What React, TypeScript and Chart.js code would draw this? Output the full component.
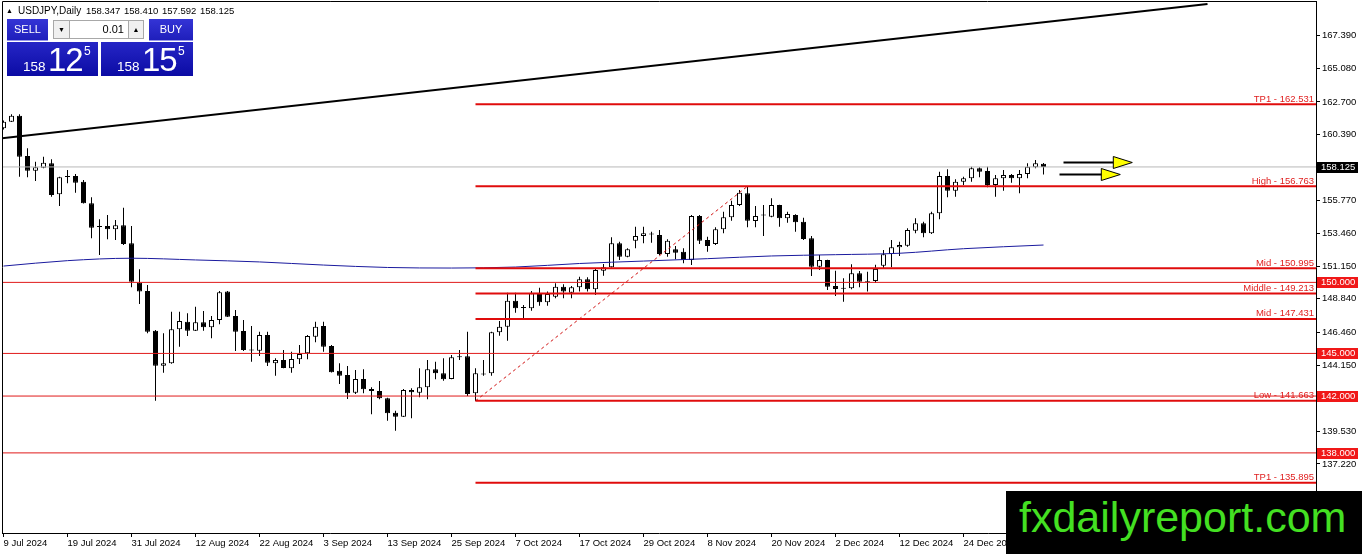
import React, { useEffect, useRef } from 'react';
import { Chart, registerables } from 'chart.js';

Chart.register(...registerables);

// ---- Daily candles USDJPY (bar index 0 = 9 Jul 2024) ----
const opens = [
  160.84, 161.31, 161.73, 158.90, 157.86, 158.07, 158.38, 156.20, 157.47, 157.49,
  157.09, 155.57, 153.95, 153.97, 153.74, 154.02, 152.75, 149.98, 149.39, 146.60,
  144.14, 144.31, 146.70, 147.23, 146.60, 147.19, 146.84, 147.35, 149.35, 147.63,
  146.58, 145.28, 145.19, 146.30, 144.31, 144.54, 143.95, 144.59, 145.01, 146.18,
  146.93, 145.52, 143.78, 143.48, 142.24, 143.20, 142.50, 142.36, 141.84, 140.83,
  140.55, 142.43, 142.24, 142.62, 143.88, 143.60, 143.20, 144.80, 144.80, 142.20,
  143.57, 143.60, 146.49, 146.88, 148.71, 148.22, 148.18, 149.18, 148.60, 148.99,
  149.70, 149.27, 149.65, 150.22, 149.52, 150.82, 151.06, 152.75, 151.81, 152.93,
  153.26, 153.42, 153.33, 152.00, 152.33, 152.16, 151.58, 154.67, 152.98, 152.70,
  153.74, 154.58, 155.45, 156.27, 154.32, 154.72, 154.62, 155.45, 154.51, 154.74,
  154.27, 153.10, 151.10, 151.58, 149.75, 149.60, 149.58, 150.64, 150.07, 150.10,
  151.17, 152.00, 152.47, 152.58, 153.64, 154.16, 153.45, 154.86, 157.49, 156.45,
  157.09, 157.33, 158.03, 157.84, 156.86, 157.33, 157.56, 157.33, 157.63, 158.10,
  158.347,
];
const highs = [
  161.40, 161.83, 161.83, 159.44, 158.49, 158.85, 158.66, 157.44, 157.91, 157.63,
  157.21, 155.99, 154.44, 154.74, 154.39, 155.26, 153.97, 150.92, 149.82, 146.65,
  146.42, 147.94, 147.94, 147.82, 148.29, 147.99, 147.63, 149.39, 149.39, 148.06,
  147.35, 146.93, 146.53, 146.53, 144.66, 145.24, 145.12, 145.59, 146.30, 147.23,
  147.23, 145.59, 144.31, 144.12, 143.83, 143.88, 142.62, 143.06, 141.88, 140.97,
  142.50, 142.55, 143.95, 144.54, 144.42, 144.66, 144.89, 145.24, 146.53, 143.95,
  144.54, 146.53, 147.28, 149.27, 149.27, 148.41, 149.39, 149.63, 149.35, 149.94,
  149.87, 149.75, 150.40, 150.36, 150.99, 151.30, 153.17, 152.86, 152.40, 153.92,
  153.92, 153.57, 153.68, 153.03, 152.56, 152.40, 154.74, 154.74, 153.21, 153.88,
  154.98, 155.75, 156.50, 156.76, 155.38, 155.45, 155.92, 155.47, 154.98, 154.79,
  154.55, 153.26, 151.93, 151.60, 150.82, 150.29, 151.27, 150.80, 150.75, 151.25,
  152.28, 152.98, 152.86, 153.81, 154.51, 154.27, 154.98, 157.79, 157.96, 157.26,
  157.44, 158.14, 158.10, 158.14, 157.56, 157.91, 157.63, 157.91, 158.38, 158.61,
  158.410,
];
const lows = [
  160.76, 161.29, 157.44, 157.40, 157.14, 158.03, 156.03, 155.38, 156.97, 156.31,
  155.55, 153.10, 151.93, 153.03, 152.98, 152.63, 149.66, 148.48, 146.42, 141.67,
  143.64, 144.28, 145.47, 146.23, 146.58, 146.60, 146.07, 147.05, 147.56, 145.17,
  145.17, 144.42, 144.82, 144.12, 143.43, 143.95, 143.64, 144.26, 144.59, 145.78,
  145.12, 143.65, 142.85, 141.79, 142.15, 142.20, 140.72, 141.77, 140.27, 139.56,
  140.53, 140.44, 141.91, 141.77, 143.18, 143.08, 143.18, 144.54, 142.01, 141.66,
  143.43, 143.43, 146.25, 145.90, 147.87, 147.35, 148.01, 148.36, 148.36, 148.88,
  148.88, 148.88, 149.35, 149.35, 149.11, 150.47, 151.04, 151.58, 151.77, 152.40,
  152.75, 152.79, 151.93, 151.81, 151.63, 151.34, 151.23, 152.70, 152.16, 152.63,
  153.45, 154.34, 155.38, 153.88, 153.88, 153.26, 154.58, 153.92, 154.20, 153.57,
  152.98, 150.45, 150.87, 149.47, 149.04, 148.64, 149.52, 149.66, 149.35, 149.95,
  150.99, 151.06, 151.86, 152.51, 153.45, 153.17, 153.40, 154.44, 155.99, 156.03,
  156.86, 157.09, 157.40, 156.69, 156.03, 156.45, 157.02, 156.27, 157.33, 158.03,
  157.592,
];
const closes = [
  161.31, 161.73, 158.85, 157.86, 158.10, 158.42, 156.15, 157.40, 157.42, 157.02,
  155.57, 153.85, 153.90, 153.74, 154.02, 152.70, 150.05, 149.35, 146.53, 144.14,
  144.31, 146.70, 147.28, 146.60, 147.19, 146.84, 147.35, 149.30, 147.58, 146.53,
  145.24, 145.20, 146.30, 144.35, 144.54, 143.97, 144.61, 144.96, 146.23, 146.88,
  145.47, 143.67, 143.43, 142.20, 143.20, 142.48, 142.36, 141.84, 140.79, 140.55,
  142.43, 142.27, 142.62, 143.88, 143.60, 143.18, 144.73, 144.75, 142.15, 143.60,
  143.52, 146.49, 146.88, 148.71, 148.18, 148.26, 149.23, 148.60, 149.18, 149.70,
  149.35, 149.65, 150.22, 149.52, 150.87, 151.06, 152.75, 151.81, 152.33, 153.26,
  153.45, 153.38, 152.00, 152.93, 152.09, 151.58, 154.67, 152.93, 152.56, 153.74,
  154.58, 155.45, 156.31, 154.34, 154.67, 154.76, 155.45, 154.51, 154.81, 154.23,
  153.05, 151.10, 151.58, 149.70, 149.54, 149.56, 150.64, 150.05, 150.03, 150.95,
  151.98, 152.47, 152.63, 153.69, 154.16, 153.45, 154.86, 157.49, 156.45, 157.09,
  157.33, 158.03, 157.79, 156.86, 157.33, 157.56, 157.33, 157.63, 158.14, 158.38,
  158.125,
];

// ---- time axis ----
const dateTickBars = [0, 8, 16, 24, 32, 40, 48, 56, 64, 72, 80, 88, 96, 104, 112, 120];
const dateTickLabels = [
  '9 Jul 2024', '19 Jul 2024', '31 Jul 2024', '12 Aug 2024', '22 Aug 2024', '3 Sep 2024',
  '13 Sep 2024', '25 Sep 2024', '7 Oct 2024', '17 Oct 2024', '29 Oct 2024', '8 Nov 2024',
  '20 Nov 2024', '2 Dec 2024', '12 Dec 2024', '24 Dec 2024',
];

// ---- price axis ----
const priceTicks = [167.39, 165.08, 162.70, 160.39, 158.08, 155.77, 153.46, 151.15, 148.84, 146.46, 144.15, 141.84, 139.53, 137.22];

// ---- moving average (read at sample bars) ----
const maBars = [0, 8, 16, 24, 32, 40, 48, 56, 64, 72, 80, 88, 96, 104, 112, 120, 130];
const maValues = [151.15, 151.53, 151.70, 151.58, 151.44, 151.22, 151.05, 151.01, 151.08, 151.33, 151.50, 151.67, 151.86, 151.95, 152.05, 152.37, 152.63];

// ---- levels & objects ----
const roundLevels = [150.0, 145.0, 142.0, 138.0];
const fibLevels = [162.531, 156.763, 150.995, 149.213, 147.431, 141.663, 135.895];
const fibNames = ['TP1', 'High', 'Mid', 'Middle', 'Mid', 'Low', 'TP1'];
const fibStartBar = 59;
const fibEndBar = 93;
const currentPrice = 158.125;
const askPrice = 158.155;
const trendBars = [-1, 150.5];
const trendPrices = [160.10, 169.59];
const arrowStartBars = [132.5, 132];
const arrowTipBars = [141.1, 139.6];
const arrowPrices = [158.47, 157.65];

const FONT = '"Liberation Sans", Arial, sans-serif';

function App() {
  const canvasRef = useRef<HTMLCanvasElement | null>(null);

  useEffect(() => {
    document.body.style.margin = '0';
    const canvas = canvasRef.current;
    if (!canvas) return;

    const wickData = highs.map((h, i) => ({ x: i, y: [lows[i], h] }));
    const bodyData = opens.map((o, i) => {
      let lo = Math.min(o, closes[i]);
      let hi = Math.max(o, closes[i]);
      if (hi - lo < 0.06) {
        const m = (hi + lo) / 2;
        lo = m - 0.035;
        hi = m + 0.035;
      }
      return { x: i, y: [lo, hi] };
    });
    const bodyColors = opens.map((o, i) => (closes[i] >= o ? '#ffffff' : '#000000'));

    const hLine = (v: number, from: number, to: number) => [
      { x: from, y: v },
      { x: to, y: v },
    ];

    const lineDs = (data: any[], color: string, width: number, order: number, extra: any = {}) => ({
      type: 'line',
      data,
      borderColor: color,
      borderWidth: width,
      pointRadius: 0,
      fill: false,
      tension: 0,
      order,
      ...extra,
    });

    const datasets: any[] = [
      {
        type: 'bar',
        data: wickData,
        backgroundColor: '#000000',
        borderWidth: 0,
        barThickness: 1,
        grouped: false,
        inflateAmount: 0,
        order: 20,
      },
      {
        type: 'bar',
        data: bodyData,
        backgroundColor: bodyColors,
        borderColor: '#000000',
        borderWidth: 1,
        borderSkipped: false,
        barThickness: 5,
        grouped: false,
        inflateAmount: 0,
        order: 19,
      },
      lineDs(maBars.map((b, i) => ({ x: b, y: maValues[i] })), '#1a1a9e', 1, 8, { cubicInterpolationMode: 'monotone' }),
      lineDs(hLine(currentPrice, -5, 200), '#b8b8b8', 1, 7),
      ...roundLevels.map((v) => lineDs(hLine(v, -5, 200), '#e01a1a', 1, 6)),
      ...fibLevels.map((v) => lineDs(hLine(v, fibStartBar, 200), '#e00c0c', 2, 5)),
      lineDs(
        [
          { x: fibStartBar, y: fibLevels[5] },
          { x: fibEndBar, y: fibLevels[1] },
        ],
        '#d01010',
        1,
        4,
        { borderDash: [3, 3] }
      ),
      lineDs(trendBars.map((b, i) => ({ x: b, y: trendPrices[i] })), '#000000', 2, 3),
    ];

    const overlay = {
      id: 'overlay',
      afterDatasetsDraw(chart: any) {
        const { ctx, chartArea } = chart;
        const x = chart.scales.x;
        const y = chart.scales.y;
        ctx.save();
        ctx.beginPath();
        ctx.rect(chartArea.left, chartArea.top, chartArea.right - chartArea.left, chartArea.bottom - chartArea.top);
        ctx.clip();
        // arrows
        arrowPrices.forEach((p, i) => {
          const yy = Math.round(y.getPixelForValue(p)) + 0.5;
          const x0 = x.getPixelForValue(arrowStartBars[i]);
          const tip = x.getPixelForValue(arrowTipBars[i]);
          const base = tip - 19;
          ctx.strokeStyle = '#000';
          ctx.lineWidth = 2;
          ctx.beginPath();
          ctx.moveTo(x0, yy);
          ctx.lineTo(base + 2, yy);
          ctx.stroke();
          ctx.lineWidth = 1;
          ctx.fillStyle = '#ffff00';
          ctx.beginPath();
          ctx.moveTo(base, yy - 6);
          ctx.lineTo(tip, yy);
          ctx.lineTo(base, yy + 6);
          ctx.closePath();
          ctx.fill();
          ctx.stroke();
        });
        // fib labels
        ctx.font = '9.5px ' + FONT;
        ctx.fillStyle = '#e01e1e';
        ctx.textAlign = 'right';
        ctx.textBaseline = 'alphabetic';
        fibLevels.forEach((v, i) => {
          const yy = y.getPixelForValue(v);
          ctx.fillText(`${fibNames[i]} - ${v.toFixed(3)}`, chartArea.right - 2, yy - 2.5);
        });
        ctx.restore();
      },
      afterDraw(chart: any) {
        const { ctx, chartArea } = chart;
        const y = chart.scales.y;
        ctx.save();
        // frame
        ctx.strokeStyle = '#000';
        ctx.lineWidth = 1;
        ctx.beginPath();
        ctx.moveTo(chartArea.left + 0.5, chartArea.bottom);
        ctx.lineTo(chartArea.left + 0.5, chartArea.top + 0.5);
        ctx.lineTo(chartArea.right, chartArea.top + 0.5);
        ctx.stroke();
        // axis boxes
        ctx.font = '9.5px ' + FONT;
        ctx.textAlign = 'left';
        ctx.textBaseline = 'middle';
        const box = (v: number, bg: string) => {
          const yy = Math.round(y.getPixelForValue(v));
          ctx.fillStyle = bg;
          ctx.fillRect(y.left + 1, yy - 5, 41, 11);
          ctx.fillStyle = '#ffffff';
          ctx.fillText(v.toFixed(3), y.left + 5, yy + 0.5);
        };
        roundLevels.forEach((v) => box(v, '#f01818'));
        box(currentPrice, '#000000');
        ctx.restore();
      },
    };

    const chart = new Chart(canvas, {
      type: 'bar',
      data: { datasets },
      options: {
        animation: false,
        responsive: false,
        events: [],
        layout: { padding: { left: 2, top: 1, right: 0, bottom: 0 } },
        plugins: { legend: { display: false }, tooltip: { enabled: false } },
        scales: {
          x: {
            type: 'linear',
            min: -0.1875,
            max: 164.0625,
            offset: false,
            afterBuildTicks: (s: any) => {
              s.ticks = dateTickBars.map((v) => ({ value: v }));
            },
            ticks: {
              callback: (v: any) => dateTickLabels[dateTickBars.indexOf(Number(v))] ?? '',
              align: 'start',
              maxRotation: 0,
              minRotation: 0,
              autoSkip: false,
              color: '#000',
              font: { family: FONT, size: 9.5 },
              padding: 1,
            },
            grid: { offset: false, drawOnChartArea: false, drawTicks: true, tickLength: 4, tickColor: '#000' },
            border: { display: true, color: '#000', width: 1 },
            afterFit: (s: any) => {
              s.height = 21;
              s.paddingLeft = 0;
              s.paddingRight = 0;
            },
          },
          y: {
            type: 'linear',
            position: 'right',
            min: 132.362,
            max: 169.804,
            beginAtZero: false,
            afterBuildTicks: (s: any) => {
              s.ticks = priceTicks.map((v) => ({ value: v }));
            },
            ticks: {
              callback: (v: any) => Number(v).toFixed(3),
              autoSkip: false,
              color: '#000',
              font: { family: FONT, size: 9.5 },
              padding: 2,
            },
            grid: { drawOnChartArea: false, drawTicks: true, tickLength: 4, tickColor: '#000' },
            border: { display: true, color: '#000', width: 1 },
            afterFit: (s: any) => {
              s.width = 46;
              s.paddingTop = 0;
              s.paddingBottom = 0;
            },
          },
        },
      } as any,
      plugins: [overlay],
    } as any);

    return () => chart.destroy();
  }, []);

  const last = opens.length - 1;
  const header = `${opens[last].toFixed(3)} ${highs[last].toFixed(3)} ${lows[last].toFixed(3)} ${closes[last].toFixed(3)}`;
  const split = (p: number) => {
    const s = p.toFixed(3);
    return { small: s.slice(0, 3), big: s.slice(4, 6), sup: s.slice(6) };
  };
  const bid = split(currentPrice);
  const ask = split(askPrice);

  const labelBox = (left: number, width: number, text: string) => (
    <div
      style={{
        position: 'absolute',
        left,
        top: 19,
        width,
        height: 22,
        background: 'linear-gradient(#3434d6, #1e1eba)',
        color: '#fff',
        fontSize: 11,
        lineHeight: '21px',
        textAlign: 'center',
        boxShadow: 'inset 0 -1px 0 rgba(200,200,255,0.7)',
      }}
    >
      {text}
    </div>
  );

  const priceBox = (left: number, width: number, p: { small: string; big: string; sup: string }) => (
    <div
      style={{
        position: 'absolute',
        left,
        top: 42,
        width,
        height: 34,
        background: 'linear-gradient(#2626c6, #0b0ba4)',
        color: '#fff',
      }}
    >
      <span style={{ position: 'absolute', left: 16, top: 18, fontSize: 13.5, lineHeight: '13.5px' }}>{p.small}</span>
      <span style={{ position: 'absolute', left: 41, top: 1, fontSize: 33, lineHeight: '33px', letterSpacing: -1 }}>{p.big}</span>
      <span style={{ position: 'absolute', left: 77, top: 3, fontSize: 12, lineHeight: '12px' }}>{p.sup}</span>
    </div>
  );

  return (
    <div style={{ position: 'relative', width: 1362, height: 554, overflow: 'hidden', background: '#fff', fontFamily: FONT }}>
      <canvas ref={canvasRef} width={1362} height={554} style={{ position: 'absolute', left: 0, top: 0, width: 1362, height: 554 }} />
      <span style={{ position: 'absolute', left: 6, top: 6, fontSize: 7, lineHeight: '10px', color: '#000' }}>▲</span>
      <span style={{ position: 'absolute', left: 18, top: 5, fontSize: 10, lineHeight: '12px', color: '#000', whiteSpace: 'pre' }}>
        USDJPY,Daily
      </span>
      <span style={{ position: 'absolute', left: 86, top: 5, fontSize: 9.5, lineHeight: '12px', color: '#000', whiteSpace: 'pre', wordSpacing: 1 }}>
        {header}
      </span>
      {labelBox(7, 41, 'SELL')}
      {labelBox(149, 44, 'BUY')}
      <div
        style={{
          position: 'absolute',
          left: 53,
          top: 20,
          width: 17,
          height: 19,
          background: '#f0f0f0',
          border: '1px solid #a8a8a8',
          boxSizing: 'border-box',
          fontSize: 7,
          lineHeight: '17px',
          textAlign: 'center',
          color: '#000',
        }}
      >
        ▼
      </div>
      <div
        style={{
          position: 'absolute',
          left: 70,
          top: 20,
          width: 58,
          height: 19,
          background: '#fff',
          borderTop: '1px solid #a8a8a8',
          borderBottom: '1px solid #a8a8a8',
          boxSizing: 'border-box',
          fontSize: 11,
          lineHeight: '17px',
          textAlign: 'right',
          paddingRight: 4,
          color: '#000',
        }}
      >
        0.01
      </div>
      <div
        style={{
          position: 'absolute',
          left: 128,
          top: 20,
          width: 16,
          height: 19,
          background: '#f0f0f0',
          border: '1px solid #a8a8a8',
          boxSizing: 'border-box',
          fontSize: 7,
          lineHeight: '17px',
          textAlign: 'center',
          color: '#000',
        }}
      >
        ▲
      </div>
      {priceBox(7, 91, bid)}
      {priceBox(101, 92, ask)}
      <div
        style={{
          position: 'absolute',
          left: 1006,
          top: 491,
          width: 356,
          height: 63,
          background: '#000',
          color: '#44e022',
          fontSize: 43,
          lineHeight: '43px',
        }}
      >
        <span style={{ position: 'absolute', left: 13, top: 5, whiteSpace: 'nowrap' }}>fxdailyreport.com</span>
      </div>
    </div>
  );
}

export default App;
